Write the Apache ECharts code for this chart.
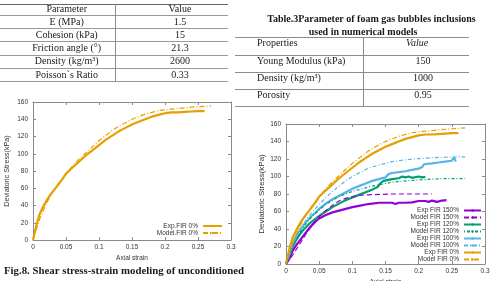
<!DOCTYPE html>
<html><head><meta charset="utf-8">
<script src="https://cdn.jsdelivr.net/npm/echarts@6/dist/echarts.min.js"></script>
<style>html,body{margin:0;padding:0;background:#fff}#c{width:493px;height:281px}</style>
</head><body><div id="c"></div>
<script>
// ---------- table content ----------
const table1Header = ['Parameter', 'Value'];
const table1Params = ['E (MPa)', 'Cohesion (kPa)', 'Friction angle (°)', 'Density (kg/m³)', 'Poisson`s Ratio'];
const table1Values = ['1.5', '15', '21.3', '2600', '0.33'];
const table2Title = ['Table.3Parameter of foam gas bubbles inclusions', 'used in numerical models'];
const table2Header = ['Properties', 'Value'];
const table2Props = ['Young Modulus (kPa)', 'Density (kg/m³)', 'Porosity'];
const table2Values = ['150', '1000', '0.95'];
const fig8Caption = 'Fig.8. Shear stress-strain modeling of unconditioned';

// ---------- chart text ----------
const xAxisTitle = 'Axial strain';
const yAxisTitle = 'Deviatoric Stress(kPa)';
const leftNames = ['Exp.FIR 0%', 'Model.FIR 0%'];
const rightNames = ['Exp FIR 150%', 'Model FIR 150%', 'Exp FIR 120%', 'Model FIR 120%', 'Exp FIR 100%', 'Model FIR 100%', 'Exp FIR 0%', 'Model FIR 0%'];

// ---------- series values [axial strain, deviatoric stress kPa] ----------
const exp0 = [[0,0],[0.003,10],[0.006,20],[0.01,30],[0.015,38],[0.02,45],[0.025,51],[0.03,56],[0.035,61],[0.04,66],[0.045,71],[0.05,77],[0.06,84],[0.07,91],[0.08,98],[0.09,104],[0.1,110],[0.11,116],[0.12,121],[0.13,126],[0.14,130],[0.15,134],[0.16,137],[0.17,140],[0.18,143],[0.19,145],[0.2,147],[0.21,148],[0.22,148],[0.23,148.5],[0.24,149],[0.25,149.5],[0.26,149.5]];
const model0 = [[0,0],[0.005,12],[0.01,24],[0.02,42],[0.03,56],[0.04,67],[0.05,77],[0.06,86],[0.07,94],[0.08,101],[0.09,108],[0.1,115],[0.11,121],[0.12,127],[0.13,132],[0.14,136],[0.15,140],[0.16,143],[0.17,146],[0.18,148],[0.19,150],[0.2,151],[0.22,152.5],[0.24,154],[0.26,155],[0.27,155.5]];
const exp150 = [[0,0],[0.005,6],[0.01,15],[0.015,21],[0.02,26],[0.025,31],[0.03,36],[0.035,41],[0.04,45],[0.045,49],[0.05,52],[0.06,56],[0.07,59],[0.08,61],[0.09,63],[0.1,65],[0.11,66.5],[0.12,68],[0.13,69],[0.14,70],[0.15,70],[0.16,70],[0.165,68.5],[0.17,70],[0.18,70],[0.19,70.5],[0.2,72],[0.21,72],[0.215,71],[0.22,72.5],[0.228,71],[0.235,72.5],[0.242,73]];
const model150 = [[0,0],[0.01,10],[0.02,22],[0.03,34],[0.04,45],[0.05,54],[0.06,61],[0.07,67],[0.08,72],[0.09,75],[0.1,77],[0.11,78.5],[0.12,79],[0.14,79.5],[0.16,80],[0.18,80],[0.2,80],[0.22,80]];
const exp120 = [[0,0],[0.005,10],[0.01,20],[0.015,27],[0.02,33],[0.025,38],[0.03,42],[0.035,46],[0.04,49],[0.045,52],[0.05,55],[0.06,60],[0.07,65],[0.08,69],[0.09,73],[0.1,76],[0.11,79],[0.12,82],[0.13,85],[0.138,88],[0.142,92],[0.147,95],[0.15,97],[0.16,97],[0.17,98],[0.175,100],[0.18,99],[0.185,100],[0.19,98.5],[0.2,100],[0.205,99],[0.21,99.5]];
const model120 = [[0,0],[0.01,20],[0.02,35],[0.03,46],[0.04,55],[0.05,62],[0.06,68],[0.07,73],[0.08,77],[0.09,80],[0.1,83],[0.11,85],[0.12,87],[0.13,89],[0.14,90.5],[0.15,92],[0.16,93.5],[0.18,95],[0.2,96],[0.22,97],[0.24,97.5],[0.27,97.5]];
const exp100 = [[0,0],[0.005,12],[0.01,24],[0.015,31],[0.02,38],[0.025,43],[0.03,48],[0.035,52],[0.04,56],[0.045,59],[0.05,63],[0.06,69],[0.07,74],[0.08,78],[0.09,82],[0.1,86],[0.11,89],[0.12,92],[0.13,95],[0.14,97],[0.15,99],[0.155,103],[0.16,104],[0.17,105],[0.18,106],[0.19,107.5],[0.2,109],[0.205,110.5],[0.208,114],[0.22,115],[0.23,116],[0.24,117],[0.25,118],[0.253,122],[0.256,117]];
const model100 = [[0,0],[0.01,22],[0.02,38],[0.03,50],[0.04,60],[0.05,68],[0.06,76],[0.07,83],[0.08,89],[0.09,95],[0.1,100],[0.11,104],[0.12,108],[0.13,111],[0.14,113],[0.15,115],[0.16,117],[0.18,119],[0.2,120.5],[0.22,121.5],[0.24,122],[0.27,122.5]];

// ---------- axis ranges ----------
const xMin = 0, xMax = 0.3, xStep = 0.05;
const yMin = 0, yMax = 160, yStep = 20;

// ---------- styling ----------
const C = { orange: '#E69F00', blue: '#56B4E9', green: '#009E73', purple: '#9400D3' };
const serif = '"Liberation Serif","Times New Roman",serif';
const sans = '"Liberation Sans",Arial,sans-serif';
const frame = '#8a8a8a';
const tickText = '#333';

function txt(x, y, text, o) {
  return { type: 'text', x: x, y: y, silent: true, z: 10,
    style: Object.assign({ text: text, fontFamily: serif, fontSize: 10, fill: '#1a1a1a', align: 'center', verticalAlign: 'middle' }, o || {}) };
}
function ln(x1, y1, x2, y2, stroke) {
  return { type: 'line', silent: true, shape: { x1: x1, y1: y1, x2: x2, y2: y2 }, style: { stroke: stroke || '#8c8c8c', lineWidth: 1 } };
}

const graphics = [];
// table 1
const t1Lines = [4.5, 15.5, 28.5, 41.5, 55.5, 68.5, 81.5];
t1Lines.forEach(function (y, i) { graphics.push(ln(0, y, 228, y, i === 0 ? '#666' : '#9a9a9a')); });
graphics.push(ln(115.5, 4, 115.5, 82, '#8c8c8c'));
const t1RowY = [9.8, 22, 35, 48.3, 61.7, 75];
graphics.push(txt(66.7, t1RowY[0], table1Header[0]));
graphics.push(txt(180, t1RowY[0], table1Header[1]));
table1Params.forEach(function (p, i) {
  graphics.push(txt(66.7, t1RowY[i + 1], p));
  graphics.push(txt(180, t1RowY[i + 1], table1Values[i]));
});
// table 2
graphics.push(txt(371.5, 19, table2Title[0], { fontWeight: 'bold' }));
graphics.push(txt(363, 32, table2Title[1], { fontWeight: 'bold' }));
const t2Lines = [37.5, 55.5, 72.5, 89.5, 106.5];
t2Lines.forEach(function (y) { graphics.push(ln(235, y, 469, y, '#8c8c8c')); });
graphics.push(ln(363.5, 37.5, 363.5, 106.5, '#8c8c8c'));
const t2RowY = [43.5, 61.7, 78.7, 95.7];
graphics.push(txt(257, t2RowY[0], table2Header[0], { align: 'left' }));
graphics.push(txt(417, t2RowY[0], table2Header[1], { fontStyle: 'italic' }));
table2Props.forEach(function (p, i) {
  graphics.push(txt(257, t2RowY[i + 1], p, { align: 'left' }));
  graphics.push(txt(423, t2RowY[i + 1], table2Values[i]));
});
// caption
graphics.push(txt(4, 271, fig8Caption, { align: 'left', fontWeight: 'bold', fontSize: 10.8 }));

function xAx(grid, pos, gap) {
  const main = pos === 'bottom';
  return { gridIndex: grid, type: 'value', position: pos, min: xMin, max: xMax, interval: xStep,
    axisLine: { show: true, onZero: false, lineStyle: { color: frame, width: 1 } },
    axisTick: { show: true, inside: true, length: 3, lineStyle: { color: frame } },
    axisLabel: { show: main, fontSize: 6.5, color: tickText, margin: 4, fontFamily: sans },
    splitLine: { show: false },
    name: main ? xAxisTitle : '', nameLocation: 'middle', nameGap: gap,
    nameTextStyle: { fontSize: 6.5, color: tickText, fontFamily: sans } };
}
function yAx(grid, pos, gap, nameSize) {
  const main = pos === 'left';
  return { gridIndex: grid, type: 'value', position: pos, min: yMin, max: yMax, interval: yStep,
    axisLine: { show: true, onZero: false, lineStyle: { color: frame, width: 1 } },
    axisTick: { show: true, inside: true, length: 3, lineStyle: { color: frame } },
    axisLabel: { show: main, fontSize: 6.5, color: tickText, margin: 5, fontFamily: sans },
    splitLine: { show: false },
    name: main ? yAxisTitle : '', nameLocation: 'middle', nameGap: gap, nameRotate: 90,
    nameTextStyle: { fontSize: nameSize, color: tickText, fontFamily: sans } };
}

function expSeries(name, data, color, xi) {
  return { name: name, type: 'line', xAxisIndex: xi, yAxisIndex: xi, data: data,
    symbol: 'circle', symbolSize: 2, showSymbol: false, smooth: false,
    lineStyle: { color: color, width: 2.2 }, itemStyle: { color: color }, z: 3 };
}
function modelSeries(name, data, color, xi, dash) {
  return { name: name, type: 'line', xAxisIndex: xi, yAxisIndex: xi, data: data,
    symbol: 'none', smooth: false,
    lineStyle: { color: color, width: 1.2, type: dash }, itemStyle: { color: color }, z: 4 };
}

const option = {
  animation: false,
  backgroundColor: '#fff',
  grid: [
    { left: 33, top: 102, width: 198, height: 138, outerBoundsMode: 'none', containLabel: false },
    { left: 286, top: 124, width: 199, height: 140, outerBoundsMode: 'none', containLabel: false }
  ],
  xAxis: [xAx(0, 'bottom', 15), xAx(1, 'bottom', 15), xAx(0, 'top', 0), xAx(1, 'top', 0)],
  yAxis: [yAx(0, 'left', 22, 7.2), yAx(1, 'left', 20, 8), yAx(0, 'right', 0, 7), yAx(1, 'right', 0, 7)],
  legend: [
    { data: leftNames, orient: 'vertical', align: 'right', right: 270, top: 222.5, padding: 0,
      itemWidth: 19, itemHeight: 3, itemGap: 0, selectedMode: false,
      textStyle: { fontSize: 6.5, lineHeight: 6.3, color: tickText, fontFamily: sans } },
    { data: rightNames, orient: 'vertical', align: 'right', right: 11, top: 207, padding: 0,
      itemWidth: 17, itemHeight: 3, itemGap: 0, selectedMode: false,
      textStyle: { fontSize: 6.5, lineHeight: 6.9, color: tickText, fontFamily: sans } }
  ],
  series: [
    expSeries(leftNames[0], exp0, C.orange, 0),
    modelSeries(leftNames[1], model0, C.orange, 0, [5, 2, 1, 2]),
    expSeries(rightNames[0], exp150, C.purple, 1),
    modelSeries(rightNames[1], model150, C.purple, 1, [5, 3]),
    expSeries(rightNames[2], exp120, C.green, 1),
    modelSeries(rightNames[3], model120, C.green, 1, [1, 2, 3, 2]),
    expSeries(rightNames[4], exp100, C.blue, 1),
    modelSeries(rightNames[5], model100, C.blue, 1, [4, 2, 1, 2]),
    expSeries(rightNames[6], exp0, C.orange, 1),
    modelSeries(rightNames[7], model0, C.orange, 1, [5, 2, 1, 2])
  ],
  graphic: graphics
};

const chart = echarts.init(document.getElementById('c'), null, { renderer: 'canvas' });
chart.setOption(option);
</script>
</body></html>
